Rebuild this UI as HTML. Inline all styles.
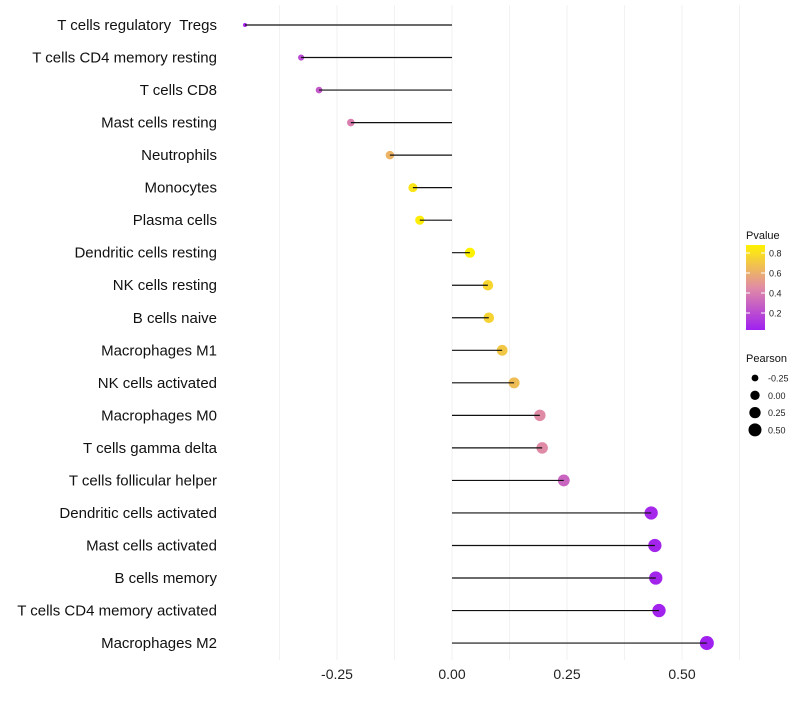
<!DOCTYPE html>
<html><head><meta charset="utf-8"><style>
body{margin:0;background:#fff;font-family:"Liberation Sans",sans-serif}
</style></head><body>
<svg id="c" width="800" height="700" xmlns="http://www.w3.org/2000/svg"></svg>
<script>
const cells=["T cells regulatory  Tregs","T cells CD4 memory resting","T cells CD8","Mast cells resting","Neutrophils","Monocytes","Plasma cells","Dendritic cells resting","NK cells resting","B cells naive","Macrophages M1","NK cells activated","Macrophages M0","T cells gamma delta","T cells follicular helper","Dendritic cells activated","Mast cells activated","B cells memory","T cells CD4 memory activated","Macrophages M2"];
const pearson=[-0.45,-0.328,-0.289,-0.22,-0.135,-0.085,-0.07,0.039,0.078,0.08,0.109,0.135,0.191,0.196,0.243,0.433,0.441,0.443,0.45,0.554];
const pvalue=[0.05,0.2,0.25,0.4,0.62,0.82,0.86,0.88,0.76,0.75,0.7,0.66,0.45,0.45,0.3,0.06,0.05,0.05,0.04,0.03];
const xTicks=[-0.25,0,0.25,0.5];
const xTickLabels=["-0.25","0.00","0.25","0.50"];
const pTicks=[0.2,0.4,0.6,0.8];
const sizeLegend=[-0.25,0,0.25,0.5];
const sizeLabels=["-0.25","0.00","0.25","0.50"];

const svg=document.getElementById('c');const NS="http://www.w3.org/2000/svg";
function mk(t,a,p){const e=document.createElementNS(NS,t);for(const k in a)e.setAttribute(k,a[k]);(p||svg).appendChild(e);return e;}
const x=v=>452+v*460;
const y=i=>25+i*32.53;
const r=v=>Math.sqrt(Math.max(1,4+45*(v+0.45)));
const pMin=0.03,pMax=0.88;
function lerp(a,b,t){return a.map((c,i)=>Math.round(c+(b[i]-c)*t));}
function col(p){const t=Math.max(0,Math.min(1,(p-pMin)/(pMax-pMin)));
 const A=[160,32,240],B=[225,140,165],C=[255,242,0];
 const c=t<0.5?lerp(A,B,t/0.5):lerp(B,C,(t-0.5)/0.5);return `rgb(${c})`;}
for(let v=-0.375;v<=0.63;v+=0.125){const l=mk('line',{x1:x(v),x2:x(v),y1:5,y2:660,stroke:'#f2f2f2','stroke-width':1});
}
xTicks.forEach((v,i)=>{const t=mk('text',{x:x(v),y:679,'text-anchor':'middle','font-size':14,fill:'#222'});t.textContent=xTickLabels[i];
});
cells.forEach((c,i)=>{
 const t=mk('text',{x:217,y:y(i)+5,'text-anchor':'end','font-size':15,fill:'#111','xml:space':'preserve',style:'white-space:pre'});t.textContent=c;
 
 const p=mk('circle',{cx:x(pearson[i]),cy:y(i),r:r(pearson[i]),fill:col(pvalue[i])});
 
 const l=mk('line',{x1:x(0),x2:x(pearson[i]),y1:y(i),y2:y(i),stroke:'#111','stroke-width':1.2});
 
});
const lg=mk('g',{});
const tt=mk('text',{x:746,y:239,'font-size':11,fill:'#111'},lg);tt.textContent='Pvalue';
const defs=mk('defs',{});const gr=mk('linearGradient',{id:'g',x1:0,y1:1,x2:0,y2:0},defs);
for(let k=0;k<=10;k++){mk('stop',{offset:k/10,'stop-color':col(pMin+(pMax-pMin)*k/10)},gr);}
mk('rect',{x:746,y:245,width:19,height:85,fill:'url(#g)'},lg);
const py=p=>330-(p-pMin)/(pMax-pMin)*85;
pTicks.forEach(p=>{mk('line',{x1:746,x2:750,y1:py(p),y2:py(p),stroke:'#fff'},lg);mk('line',{x1:761,x2:765,y1:py(p),y2:py(p),stroke:'#fff'},lg);
 const t=mk('text',{x:769,y:py(p)+3.5,'font-size':9,fill:'#222'},lg);t.textContent=p.toFixed(1);});
const sg=mk('g',{});
const st=mk('text',{x:746,y:362,'font-size':11,fill:'#111'},sg);st.textContent='Pearson';
sizeLegend.forEach((v,i)=>{const cy=378+i*17.3;mk('circle',{cx:755,cy:cy,r:r(v)*0.95,fill:'#000'},sg);
 const t=mk('text',{x:768,y:cy+3.5,'font-size':9,fill:'#222'},sg);t.textContent=sizeLabels[i];});
</script>
</body></html>
